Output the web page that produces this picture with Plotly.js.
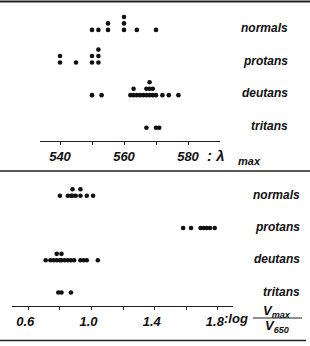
<!DOCTYPE html>
<html>
<head>
<meta charset="utf-8">
<script src="https://cdn.plot.ly/plotly-3.0.1.min.js"></script>
<style>html,body{margin:0;padding:0;background:#fff;}#chart{width:310px;height:346px;}</style>
</head>
<body>
<div id="chart"></div>
<script>
// ---- data ----
const groups = ["normals", "protans", "deutans", "tritans"];
// top panel: lambda max (nm)
const lambdaNormals = [550, 552, 555, 555, 560, 560, 560, 564, 570];
const lambdaProtans = [540, 540, 545, 550, 550, 552, 552, 552];
const lambdaDeutans = [550, 553, 562, 563, 563, 564, 565, 566, 567, 567, 568, 568, 568, 569, 569, 570, 572, 574, 577];
const lambdaTritans = [567, 570, 571];
// bottom panel: log(Vmax / V650)
const logNormals = [0.80, 0.85, 0.87, 0.88, 0.88, 0.90, 0.93, 0.93, 0.97, 1.01];
const logProtans = [1.58, 1.63, 1.69, 1.71, 1.73, 1.75, 1.78];
const logDeutans = [0.71, 0.74, 0.76, 0.78, 0.78, 0.80, 0.81, 0.81, 0.83, 0.85, 0.87, 0.89, 0.93, 0.95, 0.97, 1.04];
const logTritans = [0.79, 0.81, 0.87];
const lambdaTicks = [540, 560, 580];
const logTicks = [0.6, 1.0, 1.4, 1.8];

// ---- layout helpers ----
const W = 310, H = 346;
const ROW = 32.8, STEP = 6.5;
const px = x => x / W, py = y => 1 - y / H;

function stackTrace(vals, row, xa, ya) {
  const seen = {};
  const xs = [], ys = [];
  vals.forEach(v => {
    const k = v.toFixed(3);
    seen[k] = (seen[k] || 0);
    xs.push(v);
    ys.push(row * ROW + seen[k] * STEP);
    seen[k]++;
  });
  return {x: xs, y: ys, xaxis: xa, yaxis: ya, type: 'scatter', mode: 'markers',
    marker: {size: 4.6, color: '#111'}, hoverinfo: 'skip', showlegend: false};
}

const topSets = [lambdaNormals, lambdaProtans, lambdaDeutans, lambdaTritans];
const botSets = [logNormals, logProtans, logDeutans, logTritans];
const traces = [];
topSets.forEach((s, i) => traces.push(stackTrace(s, 3 - i, 'x', 'y')));
botSets.forEach((s, i) => traces.push(stackTrace(s, 3 - i, 'x2', 'y2')));

const tickFont = {family: 'Liberation Sans, Arial, sans-serif', size: 13, color: '#111', style: 'italic', weight: 'bold'};
const labFont = {family: 'Liberation Sans, Arial, sans-serif', size: 12, color: '#111', style: 'italic', weight: 'bold'};

const annotations = [];
groups.forEach((g, i) => {
  annotations.push({text: g, xref: 'paper', x: px(290), xanchor: 'right', yref: 'y', y: (3 - i) * ROW + 2, yanchor: 'middle', showarrow: false, font: labFont});
  annotations.push({text: g, xref: 'paper', x: px(302), xanchor: 'right', yref: 'y2', y: (3 - i) * ROW + 1, yanchor: 'middle', showarrow: false, font: labFont});
});
// top axis title
annotations.push({text: ': λ', xref: 'paper', x: px(205), xanchor: 'left', yref: 'paper', y: py(155), yanchor: 'middle', showarrow: false, font: {...tickFont, size: 15}});
annotations.push({text: 'max', xref: 'paper', x: px(236), xanchor: 'left', yref: 'paper', y: py(161), yanchor: 'middle', showarrow: false, font: {...tickFont, size: 11}});
// bottom axis title
annotations.push({text: ':log', xref: 'paper', x: px(222), xanchor: 'left', yref: 'paper', y: py(318), yanchor: 'middle', showarrow: false, font: tickFont});
annotations.push({text: 'V<sub>max</sub>', xref: 'paper', x: px(277), xanchor: 'center', yref: 'paper', y: py(311), yanchor: 'middle', showarrow: false, font: tickFont});
annotations.push({text: 'V<sub>650</sub>', xref: 'paper', x: px(277), xanchor: 'center', yref: 'paper', y: py(326), yanchor: 'middle', showarrow: false, font: tickFont});

const shapes = [
  {type: 'line', xref: 'paper', yref: 'paper', x0: 0, x1: 1, y0: py(1.5), y1: py(1.5), line: {color: '#222', width: 2}},
  {type: 'line', xref: 'paper', yref: 'paper', x0: 0, x1: 1, y0: py(171), y1: py(171), line: {color: '#222', width: 1.5}},
  {type: 'line', xref: 'paper', yref: 'paper', x0: 0, x1: px(306), y0: py(340.5), y1: py(340.5), line: {color: '#222', width: 1.5}},
  {type: 'line', xref: 'paper', yref: 'paper', x0: px(253), x1: px(302), y0: py(318), y1: py(318), line: {color: '#222', width: 1.2}}
];

const axisCommon = {showline: true, linecolor: '#222', linewidth: 1.3, ticks: 'outside', ticklen: 3, tickcolor: '#222', tickwidth: 1, showgrid: false, zeroline: false, tickfont: tickFont, fixedrange: true};

const layout = {
  width: W, height: H, margin: {l: 0, r: 0, t: 0, b: 0},
  paper_bgcolor: '#fff', plot_bgcolor: '#fff',
  xaxis: {...axisCommon, domain: [px(40), px(220)], range: [540 - 20 / 3.2, 540 + 160 / 3.2], anchor: 'y',
    tickvals: lambdaTicks, ticktext: lambdaTicks.map(String),
    minor: {tickvals: [550, 570], ticks: 'outside', ticklen: 3, tickcolor: '#222'}},
  yaxis: {domain: [py(141), py(8)], range: [-13.3, 3 * ROW + 22], anchor: 'x', visible: false, fixedrange: true},
  xaxis2: {...axisCommon, domain: [px(12), px(233)], range: [0.6 - 16.3 / 158, 0.6 + 204.7 / 158], anchor: 'y2',
    tickvals: logTicks, ticktext: logTicks.map(v => v.toFixed(1)), ticklabelshift: -3,
    minor: {tickvals: [0.8, 1.2, 1.6], ticks: 'outside', ticklen: 3, tickcolor: '#222'}},
  yaxis2: {domain: [py(305.7), py(178)], range: [-13.4, 3 * ROW + 18], anchor: 'x2', visible: false, fixedrange: true},
  annotations: annotations, shapes: shapes
};

Plotly.newPlot('chart', traces, layout, {staticPlot: true, displayModeBar: false});
</script>
</body>
</html>
